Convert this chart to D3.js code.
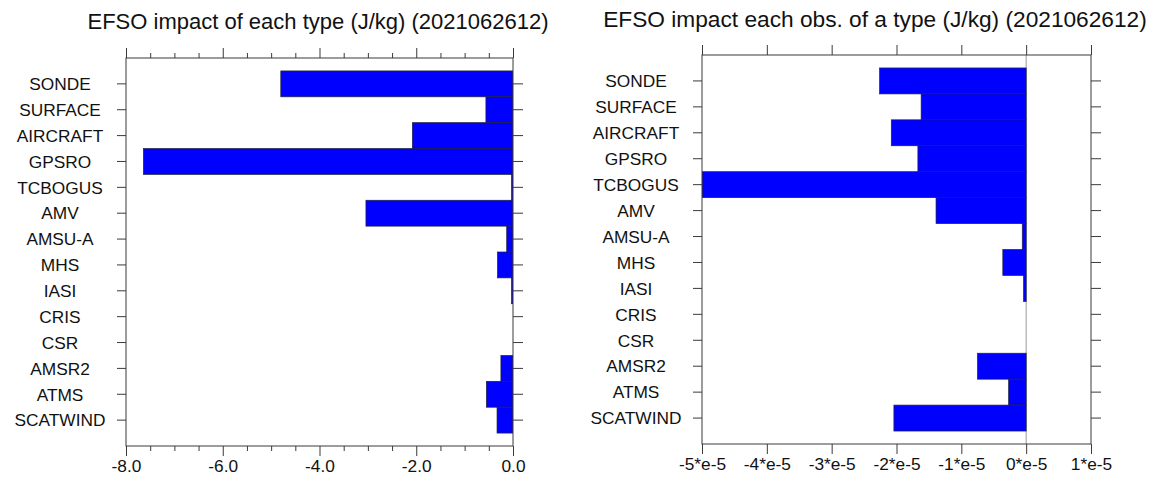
<!DOCTYPE html>
<html>
<head>
<meta charset="utf-8">
<script src="https://cdn.jsdelivr.net/npm/d3@7"></script>
<style>
  html, body { margin: 0; padding: 0; background: #fff; }
  svg { display: block; }
  text { font-family: "Liberation Sans", Arial, Helvetica, sans-serif; fill: #111; }
</style>
</head>
<body>
<svg id="chart" width="1171" height="484"></svg>
<script>
// Observation types, top to bottom
const categories = ["SONDE", "SURFACE", "AIRCRAFT", "GPSRO", "TCBOGUS", "AMV", "AMSU-A",
  "MHS", "IASI", "CRIS", "CSR", "AMSR2", "ATMS", "SCATWIND"];

// Total EFSO impact of each type (J/kg)
const impactTotal = [-4.80, -0.56, -2.08, -7.64, -0.03, -3.04, -0.13,
  -0.32, -0.03, 0, 0, -0.25, -0.55, -0.33];

// EFSO impact per observation of each type (J/kg)
const impactPerObs = [-2.26e-5, -1.62e-5, -2.08e-5, -1.67e-5, -5.0e-5, -1.39e-5, -0.06e-5,
  -0.36e-5, -0.04e-5, 0, 0, -0.75e-5, -0.27e-5, -2.04e-5];

// X-axis ticks and their labels
const leftTicks = [-8, -6, -4, -2, 0];
const leftTickLabels = ["-8.0", "-6.0", "-4.0", "-2.0", "0.0"];
const leftMinorTicks = [-8, -7.5, -7, -6.5, -6, -5.5, -5, -4.5, -4, -3.5, -3, -2.5, -2, -1.5, -1, -0.5, 0];
const rightTicks = [-5e-5, -4e-5, -3e-5, -2e-5, -1e-5, 0, 1e-5];
const rightTickLabels = ["-5*e-5", "-4*e-5", "-3*e-5", "-2*e-5", "-1*e-5", "0*e-5", "1*e-5"];

const titles = [
  "EFSO impact of each type (J/kg) (2021062612)",
  "EFSO impact each obs. of a type (J/kg) (2021062612)"
];

const svg = d3.select("#chart");
const LINE = "#3a3a3a";
const LABEL_SIZE = 17.3;

function drawPanel(cfg) {
  const { x0, x1, y0, y1, domain, values, ticks, tickLabels, minorTicks,
    title, titleX, titleY, titleSize, zeroLine } = cfg;
  const g = svg.append("g");

  const x = d3.scaleLinear().domain(domain).range([x0, x1]);
  const y = d3.scaleBand().domain(categories).range([y0, y1]).paddingInner(0).paddingOuter(0.5);

  const clipId = "clip" + Math.round(x0);
  g.append("clipPath").attr("id", clipId)
    .append("rect").attr("x", x0).attr("y", y0).attr("width", x1 - x0).attr("height", y1 - y0);

  const plot = g.append("g").attr("clip-path", `url(#${clipId})`);

  if (zeroLine) {
    plot.append("line")
      .attr("x1", x(0)).attr("x2", x(0)).attr("y1", y0).attr("y2", y1)
      .attr("stroke", "#9a9a9a").attr("stroke-width", 1);
  }

  const rows = categories.map((c, i) => ({ c, v: values[i] })).filter(d => d.v !== 0);
  plot.selectAll("rect.bar").data(rows).join("rect")
    .attr("class", "bar")
    .attr("x", d => x(Math.min(d.v, 0)))
    .attr("width", d => Math.abs(x(d.v) - x(0)))
    .attr("y", d => y(d.c))
    .attr("height", y.bandwidth())
    .attr("fill", "#0000ff")
    .attr("stroke", "#20203a")
    .attr("stroke-width", 0.7);

  // Category axis on the left (labels), plain ticks on the right
  const yl = g.append("g").attr("transform", `translate(${x0},0)`)
    .call(d3.axisLeft(y).tickSize(9).tickSizeOuter(0));
  yl.select(".domain").remove();
  yl.selectAll(".tick line").attr("stroke", LINE);
  yl.selectAll(".tick text")
    .attr("x", -66).attr("text-anchor", "middle")
    .attr("dy", "0.36em")
    .style("font-size", LABEL_SIZE + "px")
    .style("font-family", '"Liberation Sans", Arial, Helvetica, sans-serif')
    .attr("fill", "#111");

  const yr = g.append("g").attr("transform", `translate(${x1},0)`)
    .call(d3.axisRight(y).tickSize(10).tickSizeOuter(0).tickFormat(""));
  yr.select(".domain").remove();
  yr.selectAll(".tick line").attr("stroke", LINE);

  // Value axis at bottom (labels) and top (ticks only)
  const fmt = d => tickLabels[ticks.indexOf(d)];
  const xb = g.append("g").attr("transform", `translate(0,${y1})`)
    .call(d3.axisBottom(x).tickValues(ticks).tickSize(10).tickSizeOuter(0).tickFormat(fmt).tickPadding(4));
  xb.select(".domain").remove();
  xb.selectAll(".tick line").attr("stroke", LINE);
  xb.selectAll(".tick text")
    .style("font-size", LABEL_SIZE + "px")
    .style("font-family", '"Liberation Sans", Arial, Helvetica, sans-serif')
    .attr("fill", "#111");

  const xt = g.append("g").attr("transform", `translate(0,${y0})`)
    .call(d3.axisTop(x).tickValues(ticks).tickSize(10).tickSizeOuter(0).tickFormat(""));
  xt.select(".domain").remove();
  xt.selectAll(".tick line").attr("stroke", LINE);

  if (minorTicks) {
    const minor = minorTicks.filter(t => !ticks.includes(t));
    g.append("g").attr("transform", `translate(0,${y1})`)
      .call(d3.axisBottom(x).tickValues(minor).tickSize(5).tickSizeOuter(0).tickFormat(""))
      .call(s => s.select(".domain").remove())
      .selectAll(".tick line").attr("stroke", LINE);
    g.append("g").attr("transform", `translate(0,${y0})`)
      .call(d3.axisTop(x).tickValues(minor).tickSize(5).tickSizeOuter(0).tickFormat(""))
      .call(s => s.select(".domain").remove())
      .selectAll(".tick line").attr("stroke", LINE);
  }

  // Plot frame
  g.append("rect")
    .attr("x", x0).attr("y", y0).attr("width", x1 - x0).attr("height", y1 - y0)
    .attr("fill", "none").attr("stroke", LINE).attr("stroke-width", 1);

  g.append("text")
    .attr("x", titleX).attr("y", titleY)
    .attr("text-anchor", "middle")
    .style("font-size", titleSize + "px")
    .text(title);
}

drawPanel({
  x0: 126, x1: 513, y0: 58, y1: 446,
  domain: [-8, 0], values: impactTotal,
  ticks: leftTicks, tickLabels: leftTickLabels, minorTicks: leftMinorTicks,
  title: titles[0], titleX: 318, titleY: 29, titleSize: 22, zeroLine: false
});

drawPanel({
  x0: 702, x1: 1091, y0: 55, y1: 444,
  domain: [-5e-5, 1e-5], values: impactPerObs,
  ticks: rightTicks, tickLabels: rightTickLabels, minorTicks: null,
  title: titles[1], titleX: 875, titleY: 27, titleSize: 22.7, zeroLine: true
});
</script>
</body>
</html>
